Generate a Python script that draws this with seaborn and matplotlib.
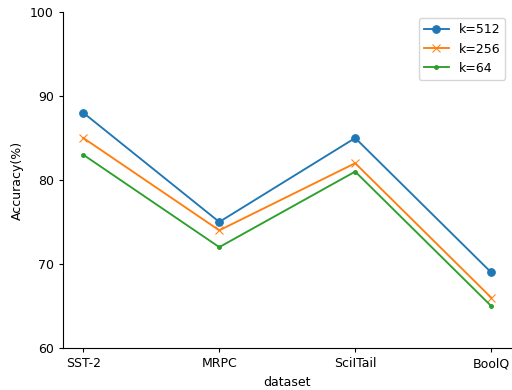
import matplotlib
matplotlib.use("Agg")
import matplotlib.pyplot as plt
import seaborn as sns
import pandas as pd

# data
datasets = ["SST-2", "MRPC", "SciITail", "BoolQ"]
acc_k512 = [88, 75, 85, 69]
acc_k256 = [85, 74, 82, 66]
acc_k64 = [83, 72, 81, 65]

series = [
    ("k=512", acc_k512, "o", "#1f77b4"),
    ("k=256", acc_k256, "x", "#ff7f0e"),
    ("k=64", acc_k64, ".", "#2ca02c"),
]

plt.rcParams['font.family'] = ['DejaVu Sans']
plt.rcParams['font.size'] = 9

fig, ax = plt.subplots(figsize=(5.12, 3.9), dpi=100)
fig.subplots_adjust(left=0.123, right=0.999, top=0.969, bottom=0.108)

for name, vals, mk, col in series:
    df = pd.DataFrame({"dataset": datasets, "acc": vals})
    sns.lineplot(data=df, x="dataset", y="acc", marker=mk, color=col,
                 label=name, ax=ax, markersize=5.5, markeredgecolor=col,
                 linewidth=1.35, sort=False)

ax.set_ylim(60, 100)
ax.set_yticks([60, 70, 80, 90, 100])
ax.set_ylabel("Accuracy(%)")
ax.set_xlabel("dataset")
ax.tick_params(length=3.2, width=0.8)
sns.despine(ax=ax)
ax.legend(loc="upper right")

plt.savefig("out.png", dpi=100)
